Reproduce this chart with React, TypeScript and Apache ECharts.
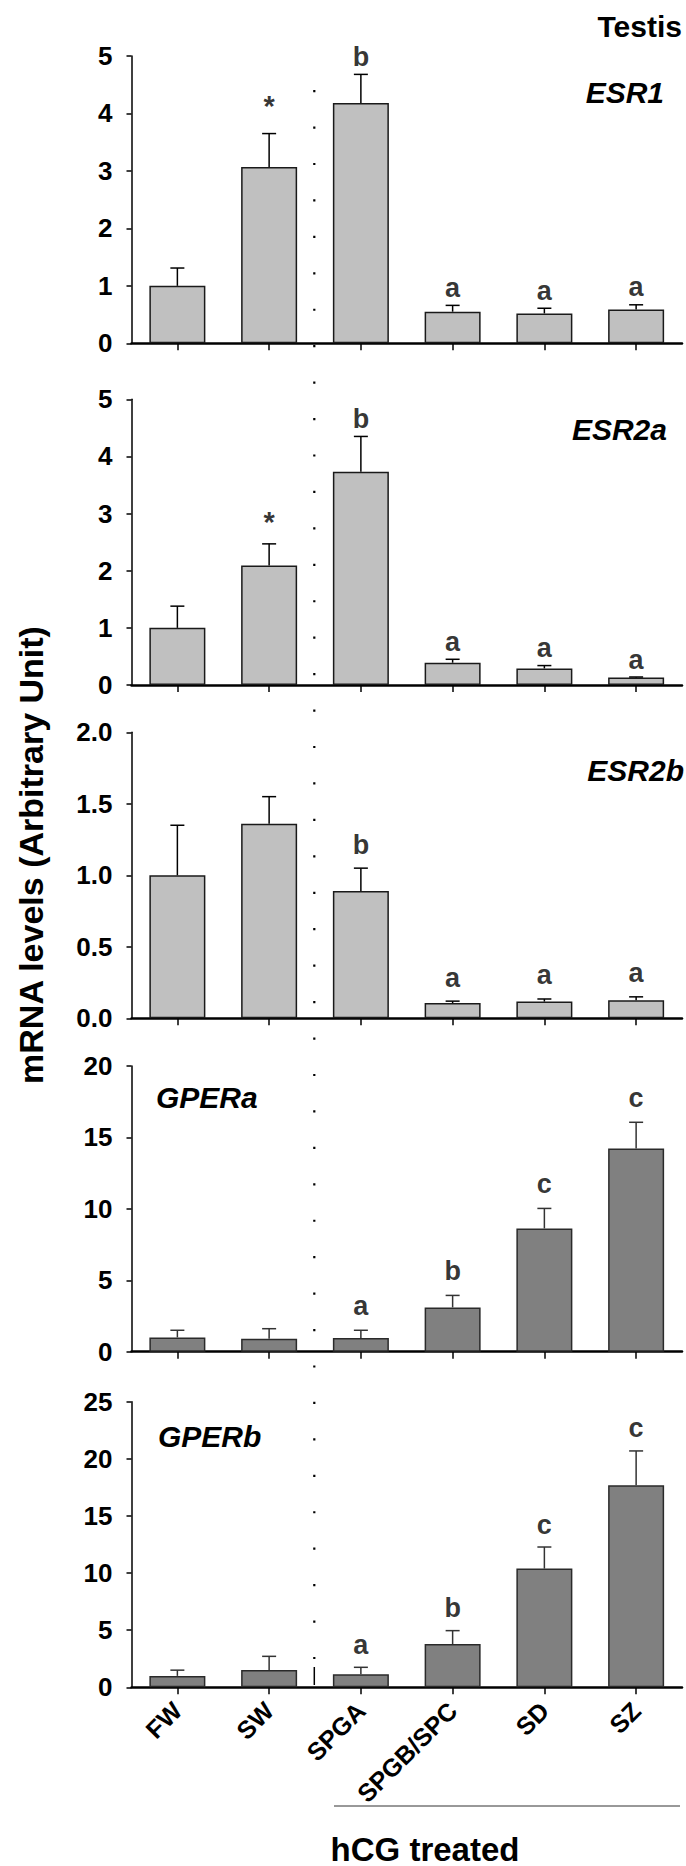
import React, { useEffect, useRef } from "react";
import * as echarts from "echarts";

const categories = ["FW", "SW", "SPGA", "SPGB/SPC", "SD", "SZ"];

const esr1Mean = [1.0, 3.07, 4.18, 0.55, 0.52, 0.59];
const esr1Sem = [0.31, 0.58, 0.5, 0.11, 0.09, 0.08];
const esr1Letters = ["", "*", "b", "a", "a", "a"];

const esr2aMean = [1.0, 2.09, 3.73, 0.39, 0.29, 0.13];
const esr2aSem = [0.38, 0.38, 0.62, 0.06, 0.05, 0.01];
const esr2aLetters = ["", "*", "b", "a", "a", "a"];

const esr2bMean = [1.0, 1.36, 0.89, 0.107, 0.117, 0.126];
const esr2bSem = [0.35, 0.19, 0.16, 0.013, 0.018, 0.024];
const esr2bLetters = ["", "", "b", "a", "a", "a"];

const gperaMean = [1.0, 0.91, 0.96, 3.1, 8.63, 14.23];
const gperaSem = [0.5, 0.7, 0.54, 0.84, 1.4, 1.83];
const gperaLetters = ["", "", "a", "b", "c", "c"];

const gperbMean = [1.0, 1.52, 1.14, 3.79, 10.39, 17.68];
const gperbSem = [0.5, 1.19, 0.61, 1.17, 1.89, 3.01];
const gperbLetters = ["", "", "a", "b", "c", "c"];

const FONT = "'Liberation Sans', Arial, Helvetica, sans-serif";

type Panel = {
  name: string;
  mean: number[];
  sem: number[];
  letters: string[];
  max: number;
  interval: number;
  decimals: number;
  top: number;
  bottom: number;
  fill: string;
  border: string;
  errColor: string;
  letterDist: number;
  starDist: number;
  letterSize: number;
};

const panels: Panel[] = [
  { name: "ESR1", mean: esr1Mean, sem: esr1Sem, letters: esr1Letters, max: 5, interval: 1, decimals: 0, top: 56, bottom: 343.3, fill: "#c0c0c0", border: "#1a1a1a", errColor: "#000", letterDist: 4, starDist: 13, letterSize: 27 },
  { name: "ESR2a", mean: esr2aMean, sem: esr2aSem, letters: esr2aLetters, max: 5, interval: 1, decimals: 0, top: 399.3, bottom: 685, fill: "#c0c0c0", border: "#1a1a1a", errColor: "#000", letterDist: 4, starDist: 7, letterSize: 27 },
  { name: "ESR2b", mean: esr2bMean, sem: esr2bSem, letters: esr2bLetters, max: 2, interval: 0.5, decimals: 1, top: 732.3, bottom: 1018.3, fill: "#c0c0c0", border: "#1a1a1a", errColor: "#000", letterDist: 10, starDist: 10, letterSize: 27 },
  { name: "GPERa", mean: gperaMean, sem: gperaSem, letters: gperaLetters, max: 20, interval: 5, decimals: 0, top: 1066, bottom: 1351.7, fill: "#808080", border: "#2a2a2a", errColor: "#333", letterDist: 11, starDist: 11, letterSize: 27 },
  { name: "GPERb", mean: gperbMean, sem: gperbSem, letters: gperbLetters, max: 25, interval: 5, decimals: 0, top: 1401.7, bottom: 1687.3, fill: "#808080", border: "#2a2a2a", errColor: "#333", letterDist: 9, starDist: 9, letterSize: 27 },
];

const GRID_LEFT = 131.5;
const GRID_WIDTH = 550.5;

function buildOption() {
  const grid: any[] = [];
  const xAxis: any[] = [];
  const yAxis: any[] = [];
  const series: any[] = [];

  panels.forEach((p, idx) => {
    const isLast = idx === panels.length - 1;
    grid.push({
      left: GRID_LEFT,
      width: GRID_WIDTH,
      top: p.top,
      height: p.bottom - p.top,
      containLabel: false,
      outerBoundsMode: "none",
    });
    xAxis.push({
      type: "category",
      gridIndex: idx,
      data: categories,
      axisLine: { show: true, lineStyle: { color: "#000", width: 2.5 } },
      axisTick: { show: true, alignWithLabel: true, length: 7, lineStyle: { color: "#000", width: 1.5 } },
      axisLabel: isLast
        ? { show: true, interval: 0, rotate: 45, margin: 19, color: "#000", fontSize: 25, fontWeight: "bold", fontFamily: FONT }
        : { show: false },
      splitLine: { show: false },
    });
    yAxis.push({
      type: "value",
      gridIndex: idx,
      min: 0,
      max: p.max,
      interval: p.interval,
      axisLine: { show: true, lineStyle: { color: "#000", width: 1.5 } },
      axisTick: { show: true, length: 5, lineStyle: { color: "#000", width: 1.5 } },
      axisLabel: {
        show: true,
        margin: 19,
        color: "#000",
        fontSize: 26,
        fontWeight: "bold",
        fontFamily: FONT,
        formatter: (v: number) => v.toFixed(p.decimals),
      },
      splitLine: { show: false },
    });
    series.push({
      type: "bar",
      xAxisIndex: idx,
      yAxisIndex: idx,
      barWidth: 56,
      data: p.mean,
      itemStyle: { color: p.fill, borderColor: p.border, borderWidth: 1.5 },
      z: 2,
    });
    series.push({
      type: "custom",
      xAxisIndex: idx,
      yAxisIndex: idx,
      z: 3,
      data: p.mean.map((m, i) => [i, m, m + p.sem[i]]),
      encode: { x: 0, y: [1, 2] },
      renderItem: (params: any, api: any) => {
        const xi = api.value(0);
        const v = api.value(1);
        const t = api.value(2);
        const p0 = api.coord([xi, v]);
        const p1 = api.coord([xi, t]);
        return {
          type: "group",
          children: [
            { type: "line", shape: { x1: p0[0], y1: p0[1], x2: p1[0], y2: p1[1] }, style: { stroke: p.errColor, lineWidth: 1.5 } },
            { type: "line", shape: { x1: p1[0] - 7, y1: p1[1], x2: p1[0] + 7, y2: p1[1] }, style: { stroke: p.errColor, lineWidth: 1.5 } },
          ],
        };
      },
    });
    const letterData: any[] = [];
    p.letters.forEach((l, i) => {
      if (!l) return;
      letterData.push({
        value: [i, p.mean[i] + p.sem[i]],
        name: l,
        label: l === "*" ? { distance: p.starDist, fontSize: 29 } : { distance: p.letterDist },
      });
    });
    series.push({
      type: "scatter",
      xAxisIndex: idx,
      yAxisIndex: idx,
      symbolSize: 0,
      itemStyle: { color: "transparent" },
      z: 4,
      data: letterData,
      label: {
        show: true,
        position: "top",
        formatter: (d: any) => d.name,
        color: "#000",
        fontSize: p.letterSize,
        fontWeight: "bold",
        fontFamily: FONT,
      },
      silent: true,
    });
  });

  const txt = (text: string, x: number, y: number, size: number, align: string, italic = false, rotation = 0) => ({
    type: "text",
    x,
    y,
    rotation,
    style: {
      text,
      fill: "#000",
      fontSize: size,
      fontWeight: "bold",
      fontStyle: italic ? "italic" : "normal",
      fontFamily: FONT,
      align,
      textAlign: align,
      verticalAlign: "middle",
      textVerticalAlign: "middle",
    },
  });

  const graphic: any[] = [
    txt("Testis", 682, 26, 30, "right"),
    txt("ESR1", 664, 92.5, 30, "right", true),
    txt("ESR2a", 667, 429, 30, "right", true),
    txt("ESR2b", 684, 770, 30, "right", true),
    txt("GPERa", 156, 1097, 30, "left", true),
    txt("GPERb", 158, 1436, 30, "left", true),
    txt("mRNA levels (Arbitrary Unit)", 31, 855, 34, "center", false, Math.PI / 2),
    txt("hCG treated", 425, 1849, 33, "center"),
    {
      type: "line",
      shape: { x1: 314.3, y1: 90, x2: 314.3, y2: 1660 },
      style: { stroke: "#000", lineWidth: 2.2, lineDash: [2.2, 34.24] },
      silent: true,
    },
    {
      type: "line",
      shape: { x1: 314.3, y1: 1667, x2: 314.3, y2: 1685 },
      style: { stroke: "#000", lineWidth: 1.5 },
      silent: true,
    },
    {
      type: "line",
      shape: { x1: 334, y1: 1806, x2: 680, y2: 1806 },
      style: { stroke: "#333", lineWidth: 1 },
      silent: true,
    },
  ];

  return {
    animation: false,
    backgroundColor: "#fff",
    textStyle: { fontFamily: FONT },
    grid,
    xAxis,
    yAxis,
    series,
    graphic,
  };
}

export default function App() {
  const ref = useRef<HTMLDivElement>(null);
  useEffect(() => {
    document.body.style.margin = "0";
    if (!ref.current) return;
    const chart = echarts.init(ref.current, null, { renderer: "svg" });
    chart.setOption(buildOption() as any);
    return () => chart.dispose();
  }, []);
  return <div ref={ref} style={{ width: 686, height: 1866, position: "absolute", left: 0, top: 0 }} />;
}
